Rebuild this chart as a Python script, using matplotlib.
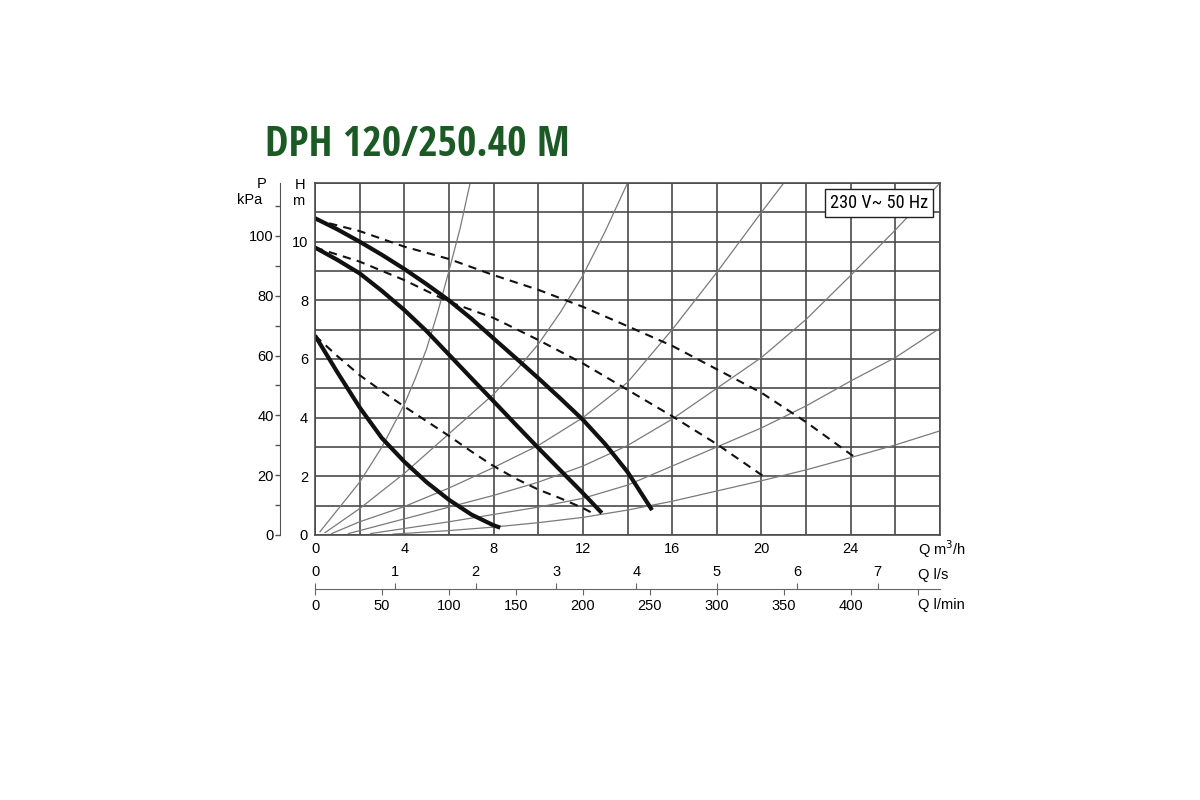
import matplotlib
matplotlib.use('Agg')
import matplotlib.pyplot as plt
from matplotlib import font_manager
from matplotlib.textpath import TextPath
from matplotlib.ticker import FixedLocator

# corbes de la bomba DPH 120/250.40 M (Q en m3/h, H en m)

# corbes de velocitat (linia gruixuda)
speed3_q = [0, 1, 2, 3, 4, 5, 6, 7, 8, 9, 10, 11, 12, 13, 14, 15.1]
speed3_h = [10.8, 10.42, 10.0, 9.55, 9.07, 8.55, 8.0, 7.38, 6.7, 6.03, 5.35, 4.65, 3.93, 3.1, 2.15, 0.85]
speed2_q = [0, 1, 2, 3, 4, 5, 6, 7, 8, 9, 10, 11, 12, 12.85]
speed2_h = [9.8, 9.38, 8.92, 8.32, 7.67, 6.95, 6.15, 5.35, 4.56, 3.76, 2.97, 2.2, 1.43, 0.75]
speed1_q = [0, 1, 2, 3, 4, 5, 6, 7, 8, 8.3]
speed1_h = [6.8, 5.55, 4.35, 3.3, 2.5, 1.8, 1.2, 0.7, 0.33, 0.25]

# corbes discontinues
dash3_q = [0, 2, 4, 6, 8, 10, 12, 14, 16, 18, 20, 22, 24, 24.3]
dash3_h = [10.75, 10.36, 9.83, 9.41, 8.86, 8.36, 7.78, 7.12, 6.45, 5.65, 4.85, 3.85, 2.75, 2.6]
dash2_q = [0, 2, 4, 6, 8, 10, 12, 14, 16, 18, 20, 20.1]
dash2_h = [9.8, 9.32, 8.69, 7.95, 7.4, 6.65, 5.85, 4.95, 4.05, 3.1, 2.05, 2.0]
dash1_q = [0, 1, 2, 3, 4, 5, 6, 7, 8, 9, 10, 11, 12, 12.5]
dash1_h = [6.8, 6.1, 5.45, 4.9, 4.38, 3.88, 3.38, 2.85, 2.35, 1.92, 1.55, 1.25, 0.92, 0.72]

# corbes d'instal.lacio (linia fina)
sys_a_q = [0.22, 1, 2, 3, 4, 4.5, 5, 5.5, 6, 6.5, 6.95]
sys_a_h = [0.11, 0.85, 1.8, 3.0, 4.45, 5.35, 6.35, 7.6, 9.0, 10.45, 12.0]
sys_b_q = [0.45, 2, 4, 6, 8, 9, 10, 11, 12, 13, 14]
sys_b_h = [0.08, 0.9, 2.1, 3.45, 4.8, 5.6, 6.5, 7.6, 8.85, 10.35, 12.0]
sys_c_q = [0.75, 2, 4, 6, 8, 10, 12, 14, 16, 18, 20, 21]
sys_c_h = [0.05, 0.45, 0.97, 1.6, 2.3, 3.05, 4.0, 5.2, 7.0, 8.95, 11.0, 12.0]
sys_d_q = [1.5, 4, 6, 8, 10, 12, 14, 16, 18, 20, 22, 24, 26, 28]
sys_d_h = [0.05, 0.55, 0.95, 1.35, 1.8, 2.35, 3.05, 3.95, 5.0, 6.05, 7.35, 8.85, 10.4, 12.0]
sys_e_q = [2.5, 6, 8, 10, 12, 14, 16, 18, 20, 22, 24, 26, 28]
sys_e_h = [0.05, 0.45, 0.7, 0.95, 1.25, 1.7, 2.35, 3.0, 3.65, 4.4, 5.25, 6.05, 7.05]
sys_f_q = [3.5, 6, 8, 10, 12, 14, 16, 18, 20, 22, 24, 26, 28]
sys_f_h = [0.03, 0.15, 0.27, 0.42, 0.6, 0.85, 1.15, 1.5, 1.85, 2.22, 2.64, 3.07, 3.55]

q_ticks = list(range(0, 29, 2))
h_ticks = list(range(0, 13))
p_major = [0, 20, 40, 60, 80, 100]
p_minor = [10, 30, 50, 70, 90, 110]
lps_vals = [0, 1, 2, 3, 4, 5, 6, 7]
lmin_vals = [0, 50, 100, 150, 200, 250, 300, 350, 400, 450]

TITLE = 'DPH 120/250.40 M'
BOX = '230 V~ 50 Hz'
GRID = '#4a4a4a'
FS = 10.5
plt.rcParams['font.family'] = ['Liberation Sans', 'DejaVu Sans']

SANS = ['DejaVu Sans', 'Liberation Sans', 'Liberation Sans Narrow', 'Noto Sans',
        'Roboto', 'Open Sans', 'Lato', 'Inter']


def fitted_font(text, bold, cap_px, width_px):
    # tria, entre poques families sans, la de proporcio amplada/alcada
    # mes propera al text original, i la mida que dona la cap height
    target = width_px / cap_px
    best, best_err = None, None
    for f in font_manager.fontManager.ttflist:
        if not any(f.name == s or f.name.startswith(s + ' ') for s in SANS[:1] + SANS[1:]):
            continue
        if f.name not in SANS and 'ondensed' not in f.name and 'arrow' not in f.name:
            continue
        if f.style != 'normal':
            continue
        w = f.weight if isinstance(f.weight, int) else (700 if 'bold' in str(f.weight) else 400)
        if bold and not 650 <= w <= 750:
            continue
        if not bold and not 350 <= w <= 450:
            continue
        fp = font_manager.FontProperties(fname=f.fname)
        try:
            cap = TextPath((0, 0), 'H', size=100, prop=fp).get_extents().height
            wid = TextPath((0, 0), text, size=100, prop=fp).get_extents().width
        except Exception:
            continue
        err = abs(wid / cap - target)
        if best_err is None or err < best_err:
            best, best_err = (fp, cap), err
    if best is None:
        fp = font_manager.FontProperties(family=['DejaVu Sans'],
                                         weight='bold' if bold else 'normal')
        best = (fp, 73.0)
    fp, cap = best
    fp.set_size(cap_px / (cap / 100) * 72 / 100)
    return fp


title_font = fitted_font(TITLE, True, 30, 285)
box_font = fitted_font(BOX, False, 13, 96)

fig = plt.figure(figsize=(12, 8), dpi=100)
W, H = 1200, 800
ax = fig.add_axes([315 / W, 1 - 535 / H, 625 / W, 352 / H])
ax.set_xlim(0, 28)
ax.set_ylim(0, 12)
ax.set_xticks(q_ticks)
ax.set_xticklabels([str(v) if v % 4 == 0 and v <= 24 else '' for v in q_ticks])
ax.set_yticks(h_ticks)
ax.set_yticklabels([str(v) if v % 2 == 0 and v <= 10 else '' for v in h_ticks])
ax.tick_params(length=0, labelsize=FS, pad=5)
ax.grid(True, color=GRID, lw=1.2)
ax.set_axisbelow(True)
for s in ax.spines.values():
    s.set_color(GRID)
    s.set_linewidth(1.2)

# eix de pressio en kPa
sec = ax.secondary_yaxis(-35 / 625, functions=(lambda h: h * 9.81, lambda p: p / 9.81))
sec.set_yticks(p_major)
sec.yaxis.set_minor_locator(FixedLocator(p_minor))
sec.tick_params(which='both', direction='out', length=3.6, width=1, color='#555',
                labelsize=FS, pad=1)
sec.spines['left'].set_color('#555')

sys_curves = [(sys_a_q, sys_a_h), (sys_b_q, sys_b_h), (sys_c_q, sys_c_h),
              (sys_d_q, sys_d_h), (sys_e_q, sys_e_h), (sys_f_q, sys_f_h)]
for q, h in sys_curves:
    ax.plot(q, h, color='#7a7a7a', lw=0.9)

for q, h in [(dash3_q, dash3_h), (dash2_q, dash2_h), (dash1_q, dash1_h)]:
    ax.plot(q, h, color='#111111', lw=1.5, linestyle=(0, (4, 3)))

for q, h in [(speed3_q, speed3_h), (speed2_q, speed2_h), (speed1_q, speed1_h)]:
    ax.plot(q, h, color='#111111', lw=3, solid_capstyle='butt', solid_joinstyle='round')

ax.text(0.9024, 0.943, BOX, transform=ax.transAxes, ha='center', va='center',
        fontproperties=box_font,
        bbox=dict(boxstyle='square,pad=0.25', fc='white', ec='#222222', lw=1))

# etiquetes dels eixos verticals
fig.text(300 / W, 1 - 185 / H, 'H', ha='center', va='center', fontsize=FS)
fig.text(298 / W, 1 - 201 / H, 'm', ha='center', va='center', fontsize=FS)
fig.text(262 / W, 1 - 184 / H, 'P', ha='center', va='center', fontsize=FS)
fig.text(250 / W, 1 - 200 / H, 'kPa', ha='center', va='center', fontsize=FS)

# eixos de cabal en l/s i l/min
ax2 = fig.add_axes([315 / W, 1 - 589 / H, 625 / W, 1e-4])
ax2.set_xlim(0, 28)
ax2.set_yticks([])
for side in ['left', 'right', 'top']:
    ax2.spines[side].set_visible(False)
ax2.spines['bottom'].set_color('#666')
ax2.set_xticks([v * 0.06 for v in lmin_vals])
ax2.set_xticklabels([str(v) if v <= 400 else '' for v in lmin_vals])
ax2.tick_params(axis='x', direction='out', length=4.3, pad=3, labelsize=FS, color='#666')

ax3 = ax2.twiny()
ax3.set_xlim(0, 28)
ax3.set_xticks([v * 3.6 for v in lps_vals])
ax3.set_xticklabels([str(v) for v in lps_vals])
for s in ax3.spines.values():
    s.set_visible(False)
ax3.tick_params(axis='x', direction='out', length=4.3, pad=3, labelsize=FS, color='#666')

fig.text(918 / W, 1 - 549 / H, 'Q m$^3$/h', ha='left', va='center', fontsize=FS)
fig.text(918 / W, 1 - 575 / H, 'Q l/s', ha='left', va='center', fontsize=FS)
fig.text(918 / W, 1 - 605 / H, 'Q l/min', ha='left', va='center', fontsize=FS)

fig.text(265 / W, 1 - 145 / H, TITLE, ha='left', va='center',
         color='#1c5a25', fontproperties=title_font)

fig.savefig('out.png', dpi=100)
